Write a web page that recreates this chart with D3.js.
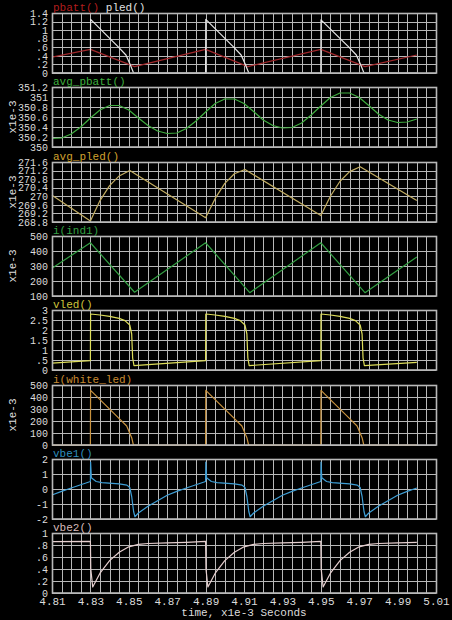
<!DOCTYPE html>
<html><head><meta charset="utf-8">
<script src="https://cdn.jsdelivr.net/npm/d3@7"></script>
<style>
html,body{margin:0;padding:0;background:#000;}
svg{display:block;}
text{font-family:"Liberation Mono","DejaVu Sans Mono",monospace;font-size:11px;}
</style></head>
<body>
<svg id="c" width="452" height="620"></svg>
<script>
// ---------- DATA ----------
const xDomain = [4.81, 5.01];
const xTicks = [4.81, 4.83, 4.85, 4.87, 4.89, 4.91, 4.93, 4.95, 4.97, 4.99, 5.01];
const xLabel = "time, x1e-3 Seconds";

const pbatt = [[4.81,0.37],[4.83,0.55],[4.853,0.15],[4.89,0.55],[4.912,0.15],[4.95,0.55],[4.973,0.15],[5.0,0.42]];
const pled = [[4.81,0],[4.83,0],[4.8301,1.25],[4.8445,0.61],[4.8485,0.42],[4.8505,0.22],[4.8525,0],
  [4.89,0],[4.8901,1.25],[4.9045,0.61],[4.9085,0.42],[4.9105,0.22],[4.9125,0],
  [4.95,0],[4.9501,1.24],[4.9645,0.61],[4.9685,0.42],[4.9705,0.22],[4.9725,0],[5.0,0]];
const avgPbatt = [[4.81,350.17],[4.815,350.18],[4.82,350.26],[4.825,350.40],[4.83,350.58],[4.835,350.74],[4.84,350.83],[4.845,350.83],
  [4.85,350.74],[4.855,350.58],[4.86,350.43],[4.865,350.32],[4.87,350.27],[4.875,350.28],[4.88,350.37],[4.885,350.52],
  [4.89,350.70],[4.895,350.87],[4.90,350.96],[4.905,350.96],[4.91,350.87],[4.915,350.71],[4.92,350.54],[4.925,350.43],
  [4.93,350.38],[4.935,350.39],[4.94,350.48],[4.945,350.64],[4.95,350.82],[4.955,350.99],[4.96,351.08],[4.965,351.08],
  [4.97,350.99],[4.975,350.83],[4.98,350.66],[4.985,350.54],[4.99,350.49],[4.995,350.50],[5.0,350.56]];
const avgPled = [[4.81,270.05],[4.83,268.85],[4.835,269.8],[4.84,270.5],[4.845,270.95],[4.8505,271.2],
  [4.89,269.0],[4.895,269.9],[4.90,270.6],[4.905,271.05],[4.9105,271.25],
  [4.95,269.1],[4.955,270.0],[4.96,270.7],[4.965,271.15],[4.9705,271.38],[5.0,269.8]];
const iInd1 = [[4.81,285],[4.83,455],[4.853,125],[4.89,455],[4.913,122],[4.95,455],[4.973,122],[5.0,360]];
const vled = [[4.81,0.34],[4.83,0.47],[4.8301,2.8],[4.835,2.75],[4.84,2.68],[4.845,2.58],[4.848,2.47],[4.8505,2.25],[4.8515,1.8],[4.852,0.6],[4.8527,0.22],
  [4.89,0.47],[4.8901,2.8],[4.895,2.75],[4.90,2.68],[4.905,2.58],[4.908,2.47],[4.9105,2.25],[4.9115,1.8],[4.912,0.6],[4.9127,0.22],
  [4.95,0.47],[4.9501,2.8],[4.955,2.75],[4.96,2.68],[4.965,2.58],[4.968,2.47],[4.9705,2.25],[4.9715,1.8],[4.972,0.6],[4.9727,0.22],[5.0,0.38]];
const iWhiteLed = [[4.81,0],[4.83,0],[4.8301,455],[4.8445,228],[4.8489,158],[4.8515,61],[4.8524,0],
  [4.89,0],[4.8901,455],[4.9045,228],[4.9089,158],[4.9115,61],[4.9124,0],
  [4.95,0],[4.9501,455],[4.9645,228],[4.9689,158],[4.9715,61],[4.9724,0],[5.0,0]];
const vbe1 = [[4.81,-0.4],[4.815,-0.16],[4.82,0.07],[4.825,0.28],[4.83,0.5],[4.8301,1.8],[4.8305,0.75],[4.833,0.5],[4.836,0.42],[4.845,0.34],[4.849,0.26],[4.8505,0.1],[4.8515,-0.5],[4.8525,-1.5],[4.8532,-1.85],
  [4.855,-1.6],[4.86,-1.15],[4.865,-0.78],[4.87,-0.42],[4.875,-0.16],[4.88,0.07],[4.885,0.28],[4.89,0.5],[4.8901,1.8],[4.8905,0.75],[4.893,0.5],[4.896,0.42],[4.905,0.34],[4.909,0.26],[4.9105,0.1],[4.9115,-0.5],[4.9125,-1.5],[4.9132,-1.85],
  [4.915,-1.6],[4.92,-1.15],[4.925,-0.78],[4.93,-0.42],[4.935,-0.16],[4.94,0.07],[4.945,0.28],[4.95,0.5],[4.9501,1.8],[4.9505,0.75],[4.953,0.5],[4.956,0.42],[4.965,0.34],[4.969,0.26],[4.9705,0.1],[4.9715,-0.5],[4.9725,-1.5],[4.9732,-1.85],
  [4.975,-1.6],[4.98,-1.15],[4.985,-0.78],[4.99,-0.42],[4.995,-0.16],[5.0,0.07]];
const vbe2 = [[4.81,0.855],[4.83,0.86],[4.8302,0.4],[4.8312,0.1],[4.835,0.33],[4.84,0.54],[4.845,0.68],[4.85,0.77],[4.855,0.81],[4.86,0.825],[4.87,0.835],[4.88,0.845],
  [4.89,0.86],[4.8902,0.4],[4.8912,0.1],[4.895,0.33],[4.90,0.54],[4.905,0.68],[4.91,0.77],[4.915,0.81],[4.92,0.825],[4.93,0.835],[4.94,0.845],
  [4.95,0.86],[4.9502,0.4],[4.9512,0.1],[4.955,0.33],[4.96,0.54],[4.965,0.68],[4.97,0.77],[4.975,0.81],[4.98,0.825],[4.99,0.835],[5.0,0.845]];

const yTicks1 = [0,0.2,0.4,0.6,0.8,1,1.2,1.4];
const yTicks2 = [350,350.2,350.4,350.6,350.8,351,351.2];
const yTicks3 = [268.8,269.2,269.6,270,270.4,270.8,271.2,271.6];
const yTicks4 = [100,200,300,400,500];
const yTicks5 = [0,0.5,1,1.5,2,2.5,3];
const yTicks6 = [0,100,200,300,400,500];
const yTicks7 = [-2,-1,0,1,2];
const yTicks8 = [0,0.2,0.4,0.6,0.8,1];

const panelNames = [["pbatt()","pled()"],["avg_pbatt()"],["avg_pled()"],["i(ind1)"],["vled()"],["i(white_led)"],["vbe1()"],["vbe2()"]];
const panelUnits = ["","x1e-3","x1e-3","x1e-3","","x1e-3","",""];

// ---------- STYLE / LAYOUT ----------
const colors = {pbatt:"#a3282c", pled:"#e6e6e6", avgPbatt:"#3fae3f", avgPled:"#c4ae62", iInd1:"#33a043",
  vled:"#dede5a", iWhiteLed:"#c8923e", vbe1:"#3f9fd6", vbe2:"#e6cfcf"};
const titleColors = {pbatt:"#b21e1e", pled:"#e0e0e0", avgPbatt:"#3fb03f", avgPled:"#d2a22e", iInd1:"#33a043",
  vled:"#cfc53c", iWhiteLed:"#c98a30", vbe1:"#2f8fbf", vbe2:"#d9bcbc"};

const panels = [
  {series:[["pbatt",pbatt],["pled",pled]], ticks:yTicks1},
  {series:[["avgPbatt",avgPbatt]], ticks:yTicks2},
  {series:[["avgPled",avgPled]], ticks:yTicks3},
  {series:[["iInd1",iInd1]], ticks:yTicks4},
  {series:[["vled",vled]], ticks:yTicks5},
  {series:[["iWhiteLed",iWhiteLed]], ticks:yTicks6},
  {series:[["vbe1",vbe1]], ticks:yTicks7},
  {series:[["vbe2",vbe2]], ticks:yTicks8}
];

const svg = d3.select("#c");
svg.append("rect").attr("width",452).attr("height",620).attr("fill","#000");
const left = 52, right = 436, ph = 60, top0 = 13, pitch = 74.3;
const x = d3.scaleLinear().domain(xDomain).range([left, right]);
const gridColor = "#b8b8b8";
const fmt = v => { let s = String(+v.toFixed(3)); return s.replace(/^0\./,".").replace(/^-0\./,"-."); };
const vGrid = d3.range(0, 41).map(i => xDomain[0] + i*0.005);

panels.forEach((p, i) => {
  const top = Math.round(top0 + i*pitch);
  const y = d3.scaleLinear().domain([p.ticks[0], p.ticks[p.ticks.length-1]]).range([top+ph, top]);
  const g = svg.append("g");
  // grid
  g.selectAll("line.v").data(vGrid).join("line")
    .attr("x1", d => Math.round(x(d))+0.5).attr("x2", d => Math.round(x(d))+0.5)
    .attr("y1", top).attr("y2", top+ph).attr("stroke", gridColor).attr("stroke-width",1);
  g.selectAll("line.h").data(p.ticks).join("line")
    .attr("x1", left).attr("x2", right)
    .attr("y1", d => Math.round(y(d))+0.5).attr("y2", d => Math.round(y(d))+0.5)
    .attr("stroke", gridColor).attr("stroke-width",1);
  // y labels
  const ax = g.append("g").attr("transform",`translate(${left-1},0)`)
    .call(d3.axisLeft(y).tickValues(p.ticks).tickFormat(fmt).tickSize(0).tickPadding(3));
  ax.select(".domain").remove();
  ax.selectAll("text").attr("fill","#dcdcdc").style("font-size","10px").style("font-family",'"Liberation Mono",monospace');
  // series
  const line = d3.line().x(d => x(d[0])).y(d => y(d[1]));
  p.series.forEach(([k, data]) => {
    g.append("path").datum(data).attr("d", line).attr("fill","none")
      .attr("stroke", colors[k]).attr("stroke-width",1.2).attr("stroke-linejoin","round");
  });
  // frame on top
  g.append("rect").attr("x", left+0.5).attr("y", top+0.5).attr("width", Math.round(right-left)).attr("height", ph-0.5)
    .attr("fill","none").attr("stroke", gridColor).attr("stroke-width",1.6);
  // title
  const t = svg.append("text").attr("x", left+1).attr("y", top-2);
  p.series.forEach(([k], j) => {
    t.append("tspan").attr("fill", titleColors[k]).text((j ? " " : "") + panelNames[i][j]);
  });
  if (panelUnits[i]) {
    svg.append("text").attr("transform",`translate(16,${top+ph/2}) rotate(-90)`)
      .attr("text-anchor","middle").attr("fill","#dcdcdc").text(panelUnits[i]);
  }
});

// x axis labels
const lastTop = Math.round(top0 + 7*pitch);
const xa = svg.append("g").attr("transform",`translate(0,${lastTop+ph+1})`)
  .call(d3.axisBottom(x).tickValues(xTicks).tickFormat(d => d.toFixed(2)).tickSize(0).tickPadding(3));
xa.select(".domain").remove();
xa.selectAll("text").attr("fill","#dcdcdc").style("font-size","11px").style("font-family",'"Liberation Mono",monospace');
svg.append("text").attr("x", (left+right)/2).attr("y", 616).attr("text-anchor","middle").attr("fill","#dcdcdc").text(xLabel);
</script>
</body></html>
